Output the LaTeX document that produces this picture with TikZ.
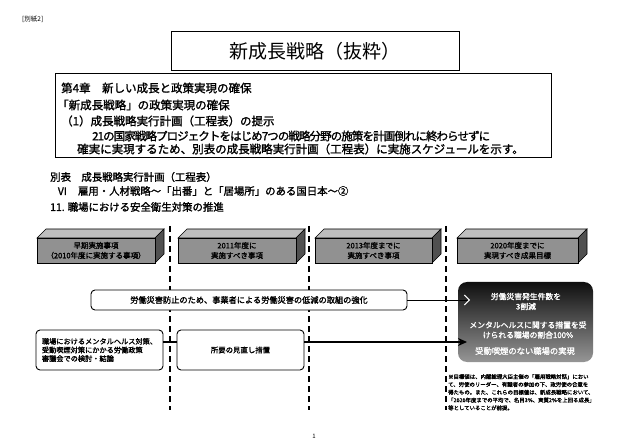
\documentclass[tikz,border=0pt]{standalone}
\usepackage{fontspec}
\setmainfont{Noto Sans CJK JP}[AutoFakeBold=1.5]
\newfontfamily\tightjp{Noto Sans CJK JP}[LetterSpace=-8,FakeBold=1.5]
\usetikzlibrary{arrows.meta}
\definecolor{blockfront}{RGB}{145,145,145}
\definecolor{blocktop}{RGB}{190,190,190}
\definecolor{blockside}{RGB}{80,80,80}
\definecolor{goaltop}{RGB}{15,15,15}
\definecolor{goalbottom}{RGB}{150,150,150}
\newcommand{\jsize}[2]{\fontsize{#1}{#2}\selectfont}
\newcommand{\headblock}[4]{%
  \filldraw[fill=blocktop,draw=black,line width=0.6pt]
    (#2,238) -- (#2+9,229) -- (#3+9,229) -- (#3,238) -- cycle;
  \filldraw[fill=blockside,draw=black,line width=0.6pt]
    (#3,238) -- (#3+9,229) -- (#3+9,254) -- (#3,263) -- cycle;
  \filldraw[fill=blockfront,draw=black,line width=0.6pt] (#2,238) rectangle (#3,263);
  \node[headtext] (#1) at ({(#2+#3)/2},250.5) {#4};
}

\begin{document}
\begin{tikzpicture}[x=1pt,y=-1pt,
    title/.style={draw,line width=1pt,minimum width=288pt,minimum height=39pt,font=\jsize{19}{19}},
    chapline/.style={anchor=west,inner sep=0pt,font=\bfseries\jsize{11.5}{11.5}},
    planline/.style={anchor=west,inner sep=0pt,font=\bfseries\jsize{10.4}{10.4}},
    headtext/.style={align=center,inner sep=0pt,font=\bfseries\jsize{7.5}{10}},
    divider/.style={line width=1.3pt,dash pattern=on 6pt off 4pt},
    roundbox/.style={draw,fill=white,rounded corners=4pt,line width=0.9pt,inner sep=1pt},
    goalbox/.style={rounded corners=9pt,top color=goaltop,bottom color=goalbottom,
      minimum width=135pt,minimum height=80pt},
    goaltext/.style={text=white,align=center,inner sep=0pt,font=\bfseries\jsize{7.8}{10}},
    note/.style={anchor=north west,align=left,inner sep=0pt,font=\bfseries\jsize{5.4}{7.8}}]
  \useasboundingbox (0,0) rectangle (630,441);
  \node[anchor=west,inner sep=0pt,font=\jsize{6.5}{6.5}] (annex) at (22,19) {[別紙2]};
  \node[title] (title) at (315,51.5) {新成長戦略（抜粋）};

  \draw[line width=1pt] (55,74) rectangle (551,158);
  \node[chapline] (ch1) at (61,88) {第4章　新しい成長と政策実現の確保};
  \node[chapline] (ch2) at (57,105) {「新成長戦略」の政策実現の確保};
  \node[chapline] (ch3) at (61,121) {（1）成長戦略実行計画（工程表）の提示};
  \node[chapline,font=\tightjp\jsize{11.5}{11.5}] (ch4) at (92,136) {21の国家戦略プロジェクトをはじめ7つの戦略分野の施策を計画倒れに終わらせずに};
  \node[chapline] (ch5) at (77,149) {確実に実現するため、別表の成長戦略実行計画（工程表）に実施スケジュールを示す。};

  \node[planline] (plan) at (50,177) {別表　成長戦略実行計画（工程表）};
  \node[planline] (field) at (57,191) {Ⅵ　雇用・人材戦略～「出番」と「居場所」のある国日本～②};
  \node[planline] (item) at (50,207) {11. 職場における安全衛生対策の推進};

  \foreach \x in {170,309,446}
    \draw[divider] (\x,226) -- (\x,410);

  \headblock{early}{37}{155}{早期実施事項\\（2010年度に実施する事項）}
  \headblock{fy2011}{178}{296}{2011年度に\\実施すべき事項}
  \headblock{fy2013}{315}{432}{2013年度までに\\実施すべき事項}
  \headblock{fy2020}{457}{578}{2020年度までに\\実現すべき成果目標}

  \node[roundbox,minimum width=316pt,minimum height=20pt,font=\bfseries\jsize{8.2}{8.2}]
    (duty) at (249,300) {労働災害防止のため、事業者による労働災害の低減の取組の強化};
  \node[roundbox,minimum width=127pt,minimum height=40pt,align=left,font=\bfseries\jsize{7.2}{8.6}]
    (mental) at (99.5,350) {職場におけるメンタルヘルス対策、\\受動喫煙対策にかかる労働政策\\審議会での検討・結論};
  \node[roundbox,minimum width=127pt,minimum height=40pt,font=\bfseries\jsize{7.4}{7.4}]
    (review) at (240.5,350) {所要の見直し措置};

  \node[goalbox] (goal) at (525.5,322) {};
  \node[goaltext] (goal1) at (526,301.5) {労働災害発生件数を\\3割減};
  \node[goaltext] (goal2) at (528,330) {メンタルヘルスに関する措置を受\\けられる職場の割合100\%};
  \node[goaltext,font=\bfseries\jsize{8.3}{8.3}] (goal3) at (525,351) {受動喫煙のない職場の実現};

  \coordinate (duty tip) at (470,300);
  \coordinate (review tip) at (467,342);
  \draw[line width=1pt,-{Straight Barb[color=white,length=5pt,width=10pt]}] (duty) -- (duty tip);
  \draw[line width=1.2pt] ([yshift=8pt]mental.east) -- ([yshift=8pt]review.west);
  \draw[line width=1.6pt,-{Stealth[length=9pt,width=8pt]}] ([yshift=8pt]review.east) -- (review tip);

  \node[note] (note) at (448,374) {※目標値は、内閣総理大臣主催の「雇用戦略対話」におい\\て、労使のリーダー、有識者の参加の下、政労使の合意を\\得たもの。また、これらの目標値は、新成長戦略において、\\「2020年度までの平均で、名目3\%、実質2\%を上回る成長」\\等としていることが前提。};
  \node[inner sep=0pt,font=\jsize{6}{6}] (page) at (314,436) {1};
\end{tikzpicture}
\end{document}
